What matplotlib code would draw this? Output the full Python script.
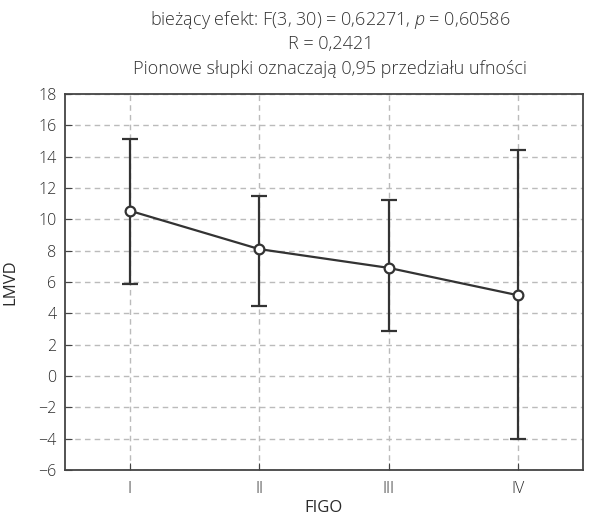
import matplotlib.pyplot as plt

# dane
stages = ['I', 'II', 'III', 'IV']
means = [10.55, 8.1, 6.9, 5.15]
lower = [5.9, 4.5, 2.9, -4.0]
upper = [15.1, 11.5, 11.2, 14.4]

plt.rcParams['font.family'] = ['Open Sans', 'DejaVu Sans']
plt.rcParams['font.weight'] = 'light'
plt.rcParams['mathtext.fontset'] = 'custom'
plt.rcParams['mathtext.it'] = 'Open Sans:italic:light'

fig = plt.figure(figsize=(5.89, 5.16), dpi=100)
ax = fig.add_axes([0.110, 0.089, 0.880, 0.729])

x = list(range(len(stages)))
err_lo = [m - l for m, l in zip(means, lower)]
err_hi = [u - m for m, u in zip(means, upper)]

ax.errorbar(x, means, yerr=[err_lo, err_hi], color='#333333', lw=1.6,
            elinewidth=1.6, capsize=6, capthick=1.6,
            marker='o', ms=7, mfc='white', mec='#333333', mew=1.6, zorder=3)

ax.set_xlim(-0.5, 3.5)
ax.set_ylim(-6, 18)
ax.set_yticks(range(-6, 19, 2))
ax.set_yticklabels([str(v).replace('-', '\u2212') for v in range(-6, 19, 2)])
ax.set_xticks(x)
ax.set_xticklabels(stages)
ax.grid(True, ls=(0, (4, 3)), color='#bbbbbb', lw=1.0)
ax.set_axisbelow(True)
for s in ax.spines.values():
    s.set_color('#444444')
    s.set_linewidth(1.3)
ax.tick_params(direction='in', length=5, color='#444444', labelsize=11.5,
               labelcolor='#2a2a2a')
ax.tick_params(axis='x', pad=8)
ax.tick_params(axis='y', pad=6)

ax.set_xlabel('FIGO', fontsize=12, color='#2a2a2a', labelpad=2)
ax.set_ylabel('LMVD', fontsize=12, color='#2a2a2a', labelpad=14)

fig.text(0.561, 0.961, 'bieżący efekt: F(3, 30) = 0,62271, $p$ = 0,60586',
         ha='center', va='center', fontsize=13, color='#333333')
fig.text(0.561, 0.915, 'R = 0,2421',
         ha='center', va='center', fontsize=13, color='#333333')
fig.text(0.561, 0.866, 'Pionowe słupki oznaczają 0,95 przedziału ufności',
         ha='center', va='center', fontsize=13, color='#333333')

fig.savefig('out.png', dpi=100)
